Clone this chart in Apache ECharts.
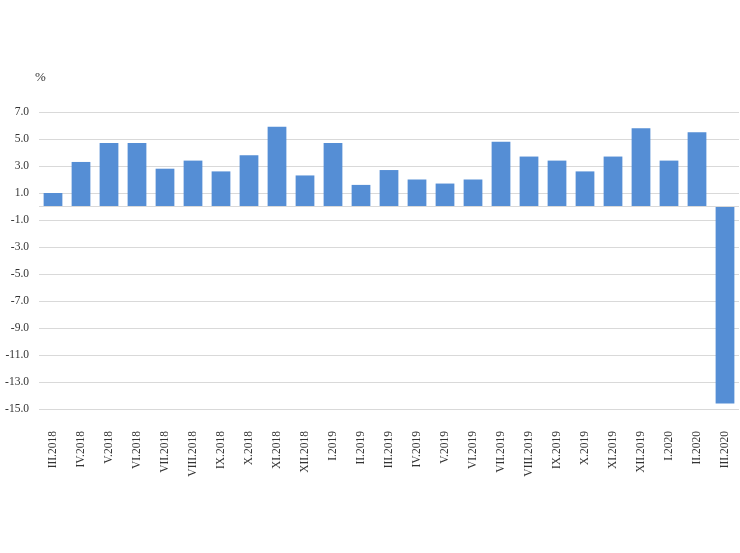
<!DOCTYPE html>
<html><head><meta charset="utf-8">
<script src="https://cdn.jsdelivr.net/npm/echarts@6/dist/echarts.min.js"></script>
<style>html,body{margin:0;padding:0;background:#fff}#c{width:740px;height:553px}</style>
</head><body><div id="c"></div>
<script>
const categories = ["III.2018","IV.2018","V.2018","VI.2018","VII.2018","VIII.2018","IX.2018","X.2018","XI.2018","XII.2018","I.2019","II.2019","III.2019","IV.2019","V.2019","VI.2019","VII.2019","VIII.2019","IX.2019","X.2019","XI.2019","XII.2019","I.2020","II.2020","III.2020"];
const values = [1.0,3.3,4.7,4.7,2.8,3.4,2.6,3.8,5.9,2.3,4.7,1.6,2.7,2.0,1.7,2.0,4.8,3.7,3.4,2.6,3.7,5.8,3.4,5.5,-14.6];
const yMin = -15, yMax = 7, yStep = 2;
const unitLabel = "%";

const chart = echarts.init(document.getElementById('c'));
const font = '"Liberation Serif", "Times New Roman", serif';
chart.setOption({
  animation: false,
  grid: {left: 39, right: 1, top: 112, bottom: 144},
  xAxis: {
    type: 'category', data: categories,
    axisLine: {show: false}, axisTick: {show: false},
    axisLabel: {rotate: 90, margin: 22, fontFamily: font, fontSize: 11.5, color: '#333333', interval: 0}
  },
  yAxis: {
    type: 'value', min: yMin, max: yMax, interval: yStep,
    name: unitLabel, nameLocation: 'end', nameGap: 28,
    nameTextStyle: {fontFamily: font, fontSize: 13, color: '#333333', align: 'left', padding: [0,0,0,-4]},
    axisLine: {show: false}, axisTick: {show: false},
    axisLabel: {formatter: v => v.toFixed(1), margin: 10, fontFamily: font, fontSize: 11.5, color: '#333333'},
    splitLine: {lineStyle: {color: '#d9d9d9', width: 1}}
  },
  series: [{
    type: 'bar', data: values, barCategoryGap: '33%',
    itemStyle: {color: '#558ed5'},
    markLine: {silent: true, symbol: 'none', label: {show: false},
      lineStyle: {color: '#d9d9d9', type: 'solid', width: 1},
      data: [{yAxis: 0}]}
  }]
});
</script></body></html>
